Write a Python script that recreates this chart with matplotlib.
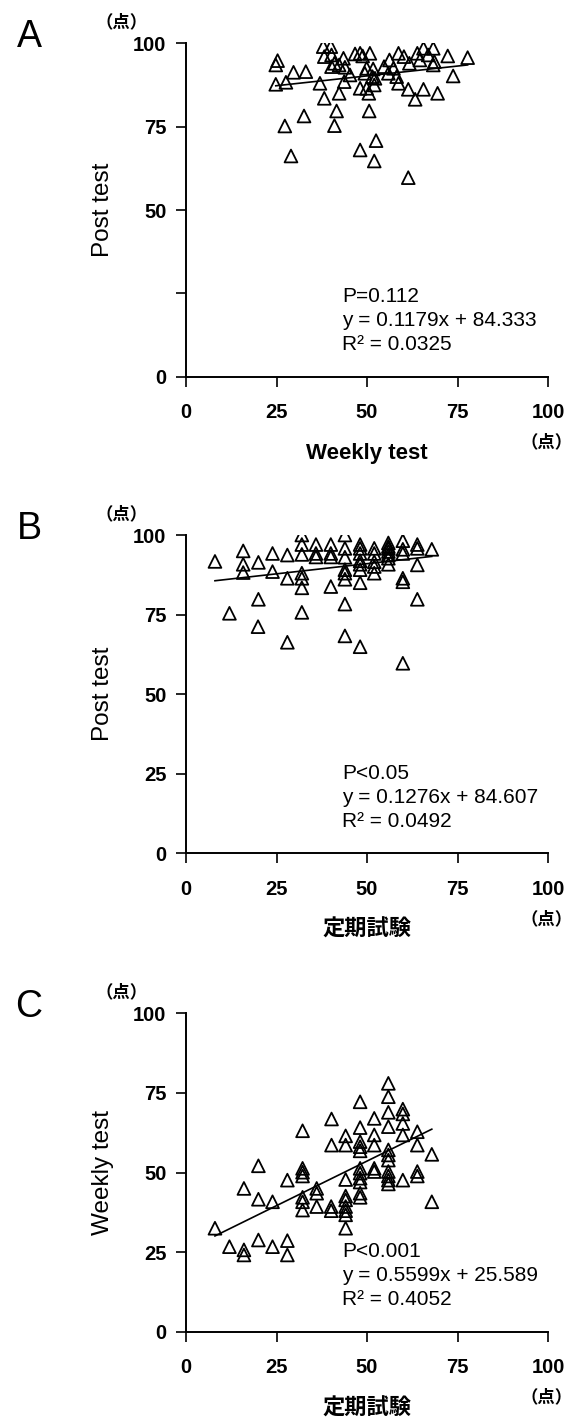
import matplotlib
matplotlib.use("Agg")
import matplotlib.pyplot as plt

plt.rcParams['font.family'] = ['Liberation Sans', 'Noto Sans CJK JP', 'DejaVu Sans']

W, H = 576, 1420

# panel A: Weekly test (x) vs Post test (y)
a_x = [37.9, 40.0, 25.3, 24.8, 29.7, 33.1, 24.8, 27.6, 37.0, 38.2, 40.2, 41.0, 43.5, 42.3,
       40.2, 43.9, 45.3, 43.7, 42.3, 38.2, 32.6, 27.3, 29.0, 41.6, 41.0, 50.6, 48.1, 52.5,
       52.0, 61.4, 46.7, 48.1, 48.8, 50.8, 49.9, 51.7, 49.4, 51.5, 52.2, 48.1, 49.9, 52.0,
       50.5, 54.7, 56.2, 55.9, 57.3, 58.2, 58.7, 58.7, 60.2, 61.7, 61.4, 63.3, 65.6, 69.5,
       63.9, 65.6, 66.9, 68.3, 68.6, 68.3, 72.3, 77.8, 73.8, 64.6]
a_y = [99.0, 99.0, 94.8, 93.5, 91.3, 91.5, 87.7, 88.3, 88.0, 96.0, 96.5, 94.0, 95.5, 93.5,
       93.0, 92.8, 90.5, 88.5, 85.0, 83.5, 78.2, 75.2, 66.2, 79.7, 75.3, 79.7, 68.0, 70.8,
       64.7, 59.7, 96.8, 97.0, 96.2, 97.0, 92.5, 92.3, 91.0, 90.0, 89.5, 86.5, 86.5, 87.5,
       85.0, 93.0, 95.0, 91.0, 92.5, 90.0, 88.0, 97.0, 96.0, 94.0, 86.2, 83.2, 86.2, 85.0,
       97.0, 98.5, 96.5, 98.5, 94.5, 93.5, 96.2, 95.7, 90.2, 95.0]

# panel B: 定期試験 (x) vs Post test (y)
b_x = [8.0, 15.8, 15.8, 15.8, 20.0, 20.0, 12.0, 19.9, 23.9, 23.9, 28.0, 28.0, 28.0,
       32.0, 32.0, 32.0, 32.0, 32.0, 32.0, 32.0, 35.9, 35.9, 35.9, 40.0, 40.0, 40.0, 40.0,
       43.9, 43.9, 43.9, 43.9, 43.9, 43.9, 43.9, 43.9, 48.1, 48.1, 48.1, 48.1, 48.1, 48.1,
       48.1, 48.1, 52.0, 52.0, 52.0, 52.0, 52.0, 55.9, 55.9, 55.9, 55.9, 55.9, 55.9, 55.9,
       59.9, 59.9, 59.9, 59.9, 59.9, 59.9, 63.9, 63.9, 63.9, 63.9, 67.9]
b_y = [91.7, 95.0, 90.8, 88.2, 91.4, 79.8, 75.4, 71.2, 94.2, 88.5, 93.7, 86.4, 66.3,
       100.0, 97.0, 93.9, 88.0, 86.4, 83.4, 75.7, 97.0, 94.2, 93.1, 97.0, 94.2, 93.1, 83.8,
       100.0, 95.8, 93.0, 89.1, 88.0, 86.1, 78.3, 68.3, 97.0, 95.8, 94.2, 91.9, 90.8, 89.1,
       85.0, 64.9, 95.8, 94.2, 91.6, 90.1, 88.0, 97.5, 96.4, 95.8, 94.8, 93.7, 92.7, 90.8,
       98.2, 95.5, 94.2, 86.4, 85.3, 59.7, 97.0, 95.8, 90.6, 79.8, 95.5]

# panel C: 定期試験 (x) vs Weekly test (y)
c_x = [55.9, 55.9, 48.1, 55.9, 59.9, 59.9, 59.9, 52.0, 40.2, 55.9, 48.1, 32.2, 44.1,
       52.0, 59.9, 63.9, 40.2, 44.1, 48.1, 48.1, 48.1, 52.0, 63.9, 55.9, 55.9, 55.9, 67.9,
       20.0, 32.2, 32.2, 32.2, 48.1, 48.1, 48.1, 48.1, 52.0, 52.0, 55.9, 55.9, 55.9, 55.9,
       63.9, 63.9, 59.9, 44.1, 28.0, 16.0, 36.1, 36.1, 48.1, 48.1, 32.2, 32.2, 44.1, 44.1,
       20.0, 23.9, 67.9, 36.1, 40.1, 40.1, 32.2, 44.1, 44.1, 44.1, 44.1, 8.0, 12.0, 16.0,
       16.0, 20.0, 23.9, 28.0, 28.0]
c_y = [78.0, 73.8, 72.2, 68.9, 69.9, 68.4, 65.4, 67.0, 66.8, 64.4, 64.1, 63.1, 61.5,
       61.8, 61.8, 62.8, 58.6, 58.6, 59.7, 58.1, 56.8, 58.6, 58.6, 57.1, 55.5, 53.9, 55.7,
       52.1, 51.3, 50.1, 48.9, 51.3, 49.8, 48.2, 47.0, 51.3, 50.3, 50.3, 48.9, 47.6, 46.4,
       50.3, 48.9, 47.6, 47.8, 47.6, 45.0, 45.0, 43.5, 43.5, 42.2, 42.2, 40.8, 42.6, 41.4,
       41.6, 40.8, 40.8, 39.3, 39.3, 38.0, 38.2, 39.3, 38.0, 36.7, 32.5, 32.5, 26.7, 25.7,
       24.1, 28.8, 26.7, 28.6, 24.1]

panels = ['A', 'B', 'C']
xs = [a_x, b_x, c_x]
ys = [a_y, b_y, c_y]
slopes = [0.1179, 0.1276, 0.5599]
intercepts = [84.333, 84.607, 25.589]
p_texts = ['P=0.112', 'P<0.05', 'P<0.001']
r2_texts = ['0.0325', '0.0492', '0.4052']
x_labels = ['Weekly test', '定期試験', '定期試験']
y_labels = ['Post test', 'Post test', 'Weekly test']
ticks = [0, 25, 50, 75, 100]

# axes boxes in pixels: left, top, right, bottom
boxes = [(186, 43.3, 548, 376.7), (186, 535, 548, 853.3), (186, 1013.3, 548, 1331.7)]

fig = plt.figure(figsize=(W / 100, H / 100), dpi=100)

for i in range(3):
    l, t, r, b = boxes[i]
    ax = fig.add_axes([l / W, 1 - b / H, (r - l) / W, (b - t) / H])
    ax.scatter(xs[i], ys[i], marker='^', s=85, facecolors='none', edgecolors='black',
               linewidths=1.3, zorder=3)
    x0, x1 = min(xs[i]), max(xs[i])
    ax.plot([x0, x1], [slopes[i] * x0 + intercepts[i], slopes[i] * x1 + intercepts[i]],
            color='black', lw=1.2, zorder=2)
    ax.set_xlim(0, 100)
    ax.set_ylim(0, 100)
    ax.set_xticks(ticks)
    ax.set_yticks(ticks)
    ylabs = [str(v) for v in ticks]
    if i == 0:
        ylabs[1] = ''
    ax.set_yticklabels(ylabs)
    ax.tick_params(direction='out', length=7, width=1.2, pad=7, labelsize=14.5)
    ax.tick_params(axis='x', pad=12)
    for lab in ax.get_xticklabels() + ax.get_yticklabels():
        lab.set_fontweight('bold')
    for s in ['top', 'right']:
        ax.spines[s].set_visible(False)
    for s in ['left', 'bottom']:
        ax.spines[s].set_linewidth(1.4)
    ax.patch.set_alpha(0)

    # annotations, placed in pixels relative to the axes box
    def ty(py):
        return 1 - (py - t) / (b - t)
    tx = (342 - l) / (r - l)
    base = b - 80
    ax.text(tx, ty(base), p_texts[i], transform=ax.transAxes, fontsize=15, va='center')
    ax.text(tx, ty(base + 24), 'y = %sx + %s' % (slopes[i], intercepts[i]),
            transform=ax.transAxes, fontsize=15, va='center')
    ax.text(tx, ty(base + 48), 'R\u00b2 = ' + r2_texts[i], transform=ax.transAxes,
            fontsize=15, va='center')

    # labels
    fig.text(103 / W, 1 - (t + b) / 2 / H, y_labels[i], rotation=90, fontsize=17.5,
             ha='center', va='center')
    fig.text((l + r) / 2 / W, 1 - (b + 77) / H, x_labels[i], fontsize=16,
             fontweight='bold', ha='center', va='center')
    fig.text(122 / W, 1 - (t - 21) / H, '（点）', fontsize=12.5, fontweight='bold',
             ha='center', va='center', family=['Noto Sans CJK JP'])
    fig.text(547 / W, 1 - (b + 66) / H, '（点）', fontsize=12.5, fontweight='bold',
             ha='center', va='center', family=['Noto Sans CJK JP'])
    fig.text(29 / W, 1 - (t - 6) / H, panels[i], fontsize=27, ha='center', va='center')

fig.savefig('out.png', dpi=100)
